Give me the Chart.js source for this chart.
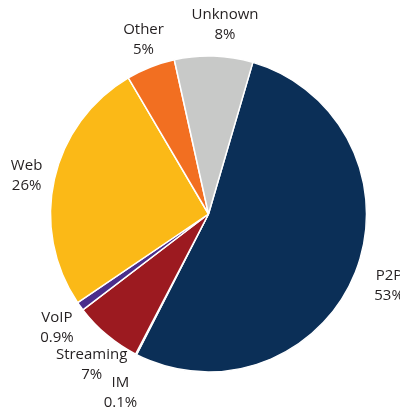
<!DOCTYPE html>
<html>
<head>
<meta charset="utf-8">
<script src="https://cdn.jsdelivr.net/npm/chart.js@4"></script>
<style>
  html, body { margin: 0; padding: 0; background: #ffffff; }
  #wrap { width: 400px; height: 412px; overflow: hidden; }
</style>
</head>
<body>
<div id="wrap"><canvas id="c" width="400" height="412"></canvas></div>
<script>
// Data
const categories = ['P2P', 'IM', 'Streaming', 'VoIP', 'Web', 'Other', 'Unknown'];
const shares = [53, 0.1, 7, 0.9, 26, 5, 8];

// Styling
const sliceColors = ['#0b2f57', '#111111', '#9c1a20', '#4a2d8c', '#fbb917', '#f26f21', '#c8c9c8'];
// per-label placement: [angle nudge in degrees, radius factor]
const labelPlacement = [[0, 1.23], [-1.1, 1.263], [-2.2, 1.205], [-1.2, 1.20], [-0.7, 1.177], [1.1, 1.18], [3.1, 1.2]];

const labelPlugin = {
  id: 'outerLabels',
  afterDatasetsDraw(chart) {
    const ctx = chart.ctx;
    const meta = chart.getDatasetMeta(0);
    ctx.save();
    ctx.font = '15px "Open Sans"';
    ctx.fillStyle = '#231f20';
    ctx.textAlign = 'center';
    ctx.textBaseline = 'middle';
    meta.data.forEach((arc, i) => {
      const p = arc.getProps(['x', 'y', 'startAngle', 'endAngle', 'outerRadius'], true);
      const mid = (p.startAngle + p.endAngle) / 2 + labelPlacement[i][0] * Math.PI / 180;
      const r = p.outerRadius * labelPlacement[i][1];
      const cx = p.x + Math.cos(mid) * r;
      const cy = p.y + Math.sin(mid) * r;
      ctx.fillText(categories[i], cx, cy - 10);
      ctx.fillText(shares[i] + '%', cx, cy + 10);
    });
    ctx.restore();
  }
};

new Chart(document.getElementById('c'), {
  type: 'pie',
  data: {
    labels: categories,
    datasets: [{
      data: shares,
      backgroundColor: sliceColors,
      borderColor: '#ffffff',
      borderWidth: 1.5
    }]
  },
  options: {
    responsive: false,
    animation: false,
    rotation: 16.3,
    layout: { padding: { left: 49.75, right: 32.75, top: 55.25, bottom: 39.25 } },
    plugins: {
      legend: { display: false },
      tooltip: { enabled: false }
    }
  },
  plugins: [labelPlugin]
});
</script>
</body>
</html>
